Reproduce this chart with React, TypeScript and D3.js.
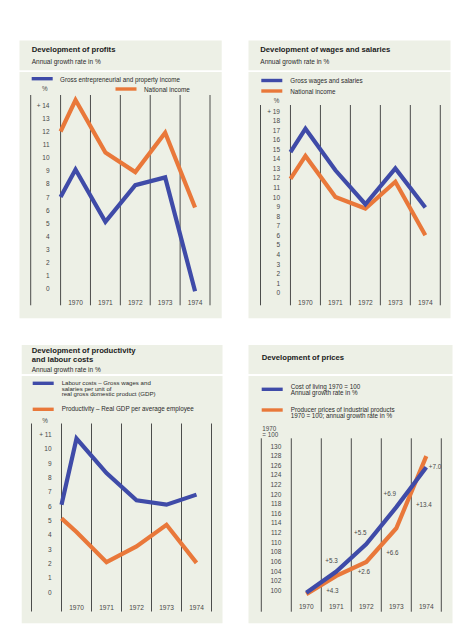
import React from "react";
import * as d3 from "d3";

// ---------- DATA ----------
const years = [1970, 1971, 1972, 1973, 1974];
const seriesYears = [1969.5, 1970, 1971, 1972, 1973, 1974];
const priceYears = [1970, 1971, 1972, 1973, 1974];

const profitsGross = [7.0, 9.1, 5.1, 7.9, 8.5, -0.2];
const profitsNational = [12.0, 14.4, 10.4, 8.9, 11.9, 6.2];
const profitsTicks = d3.range(0, 15);

const wagesGross = [14.7, 17.15, 12.8, 9.25, 13.0, 8.9];
const wagesNational = [11.9, 14.3, 10.0, 8.8, 11.6, 6.0];
const wagesTicks = d3.range(0, 20);

const labourCosts = [6.1, 10.7, 8.3, 6.4, 6.1, 6.8];
const productivity = [5.15, 4.2, 2.1, 3.2, 4.7, 2.05];
const productivityTicks = d3.range(0, 12);

const costOfLiving = [99.5, 103.9, 109.6, 117.3, 125.6];
const producerPrices = [99.2, 103.0, 105.9, 112.9, 127.9];
const priceTicks = d3.range(100, 131, 2);
const priceNoteLabels = ["+5.3", "+5.5", "+6.9", "+7.0", "+4.3", "+2.6", "+6.6", "+13.4"];
const priceNoteYears = [1970.84, 1971.8, 1972.78, 1974.29, 1970.87, 1971.92, 1972.87, 1973.92];
const priceNoteValues = [106.1, 112.0, 120.1, 125.8, 99.9, 104.0, 107.8, 117.9];

// ---------- STYLE ----------
const BLUE = "#3f4ba8";
const ORANGE = "#e9783a";
const PANEL = "#edf0e6";
const FONT = "'Liberation Sans', Arial, Helvetica, sans-serif";
const TEXT = "#2a2a2a";
const LIGHT = "#484848";

type Series = { xs: number[]; values: number[]; color: string };

function Plot(props: {
  xRange: [number, number];
  yDomain: [number, number];
  yRange: [number, number];
  gridTop: number;
  gridBottom: number;
  ticks: number[];
  tickFormat: (v: number, i: number) => string;
  tickRight: number;
  yearY: number;
  series: Series[];
}) {
  const x = d3.scaleLinear().domain([1968.5, 1974.5]).range(props.xRange);
  const y = d3.scaleLinear().domain(props.yDomain).range(props.yRange);
  const edges = [1968.5, ...years.map((yr) => yr - 0.5), years[years.length - 1] + 0.5];
  const line = d3
    .line<[number, number]>()
    .x((d) => x(d[0]))
    .y((d) => y(d[1]));
  return (
    <g>
      {edges.map((e, i) => (
        <line
          key={"v" + i}
          x1={x(e)}
          x2={x(e)}
          y1={props.gridTop}
          y2={props.gridBottom}
          stroke="#3a3a3a"
          strokeWidth={0.9}
        />
      ))}
      {props.ticks.map((t, i) => (
        <text
          key={"t" + i}
          x={props.tickRight}
          y={y(t)}
          textAnchor="end"
          dominantBaseline="central"
          fontSize={6.5}
          fill={LIGHT}
          fontFamily={FONT}
        >
          {props.tickFormat(t, i)}
        </text>
      ))}
      {years.map((yr) => (
        <text
          key={"y" + yr}
          x={x(yr)}
          y={props.yearY}
          textAnchor="middle"
          dominantBaseline="central"
          fontSize={6.6}
          fill={LIGHT}
          fontFamily={FONT}
        >
          {yr}
        </text>
      ))}
      {props.series.map((s, i) => (
        <path
          key={"s" + i}
          d={line(s.xs.map((xv, j) => [xv, s.values[j]] as [number, number])) || ""}
          fill="none"
          stroke={s.color}
          strokeWidth={4.2}
          strokeLinejoin="miter"
          strokeLinecap="butt"
        />
      ))}
    </g>
  );
}

function Swatch({ x, y, color }: { x: number; y: number; color: string }) {
  return <rect x={x} y={y - 1.7} width={21} height={3.4} fill={color} />;
}

function T(props: {
  x: number;
  y: number;
  size?: number;
  bold?: boolean;
  anchor?: string;
  fill?: string;
  children: React.ReactNode;
}) {
  return (
    <text
      x={props.x}
      y={props.y}
      fontSize={props.size ?? 6}
      fontWeight={props.bold ? "bold" : "normal"}
      textAnchor={props.anchor ?? "start"}
      dominantBaseline="central"
      fill={props.fill ?? TEXT}
      fontFamily={FONT}
    >
      {props.children}
    </text>
  );
}

export default function App() {
  const plus = (top: number) => (v: number) => (v === top ? "+ " + v : String(v));
  const priceX = d3.scaleLinear().domain([1968.5, 1974.5]).range([261.3, 441.3]);
  const priceY = d3.scaleLinear().domain([100, 130]).range([590.3, 446]);
  return (
    <svg
      width={465}
      height={640}
      style={{ position: "absolute", left: 0, top: 0, background: "#ffffff" }}
    >
      <rect x={0} y={0} width={465} height={640} fill="#ffffff" />

      {/* Panel 1 */}
      <rect x={19.5} y={40.5} width={202.2} height={29.8} fill={PANEL} />
      <rect x={19.5} y={72} width={202.2} height={246.3} fill={PANEL} />
      <T x={31.7} y={49} size={7.7} bold fill="#1b1b1b">Development of profits</T>
      <T x={31.7} y={61} size={6.5}>Annual growth rate in %</T>
      <Swatch x={31.7} y={78.7} color={BLUE} />
      <T x={60} y={79} size={6.3}>Gross entrepreneurial and property income</T>
      <Swatch x={115.5} y={89} color={ORANGE} />
      <T x={144} y={89} size={6.4}>National income</T>
      <T x={44.7} y={88.5} size={6.3} anchor="middle" fill={LIGHT}>%</T>
      <Plot
        xRange={[30.7, 210]}
        yDomain={[0, 14]}
        yRange={[288.7, 105.3]}
        gridTop={95}
        gridBottom={305.3}
        ticks={profitsTicks}
        tickFormat={plus(14)}
        tickRight={49.5}
        yearY={302.5}
        series={[
          { xs: seriesYears, values: profitsNational, color: ORANGE },
          { xs: seriesYears, values: profitsGross, color: BLUE },
        ]}
      />

      {/* Panel 2 */}
      <rect x={248.5} y={40.5} width={202} height={29.8} fill={PANEL} />
      <rect x={248.5} y={72} width={202} height={246.3} fill={PANEL} />
      <T x={260.3} y={49} size={7.7} bold fill="#1b1b1b">Development of wages and salaries</T>
      <T x={260.3} y={61} size={6.5}>Annual growth rate in %</T>
      <Swatch x={261.3} y={80.5} color={BLUE} />
      <T x={290.3} y={80} size={6.3}>Gross wages and salaries</T>
      <Swatch x={261.3} y={91} color={ORANGE} />
      <T x={290.3} y={91.5} size={6.3}>National income</T>
      <T x={276.5} y={100.5} size={6.3} anchor="middle" fill={LIGHT}>%</T>
      <Plot
        xRange={[260.5, 440.3]}
        yDomain={[0, 19]}
        yRange={[292.7, 111]}
        gridTop={105}
        gridBottom={305.3}
        ticks={wagesTicks}
        tickFormat={plus(19)}
        tickRight={280}
        yearY={302.5}
        series={[
          { xs: seriesYears, values: wagesNational, color: ORANGE },
          { xs: seriesYears, values: wagesGross, color: BLUE },
        ]}
      />

      {/* Panel 3 */}
      <rect x={21.7} y={345} width={200.8} height={29} fill={PANEL} />
      <rect x={21.7} y={376} width={200.8} height={247.3} fill={PANEL} />
      <T x={31.7} y={350.7} size={7.7} bold fill="#1b1b1b">Development of productivity</T>
      <T x={31.7} y={359.5} size={7.7} bold fill="#1b1b1b">and labour costs</T>
      <T x={31.7} y={369.3} size={6.5}>Annual growth rate in %</T>
      <Swatch x={32.7} y={383.3} color={BLUE} />
      <T x={61.7} y={382.2} size={6.1}>Labour costs – Gross wages and</T>
      <T x={61.7} y={388} size={6.1}>salaries per unit of</T>
      <T x={61.7} y={393.8} size={6.1}>real gross domestic product (GDP)</T>
      <Swatch x={32.7} y={409.3} color={ORANGE} />
      <T x={61.7} y={408.5} size={6.3}>Productivity – Real GDP per average employee</T>
      <T x={45} y={420} size={6.3} anchor="middle" fill={LIGHT}>%</T>
      <Plot
        xRange={[31.5, 211.5]}
        yDomain={[0, 11]}
        yRange={[592.3, 434.3]}
        gridTop={423.5}
        gridBottom={611.5}
        ticks={productivityTicks}
        tickFormat={plus(11)}
        tickRight={51.5}
        yearY={607.3}
        series={[
          { xs: seriesYears, values: productivity, color: ORANGE },
          { xs: seriesYears, values: labourCosts, color: BLUE },
        ]}
      />

      {/* Panel 4 */}
      <rect x={248.5} y={345} width={204} height={29} fill={PANEL} />
      <rect x={248.5} y={376} width={204} height={247.3} fill={PANEL} />
      <T x={261.7} y={357} size={7.7} bold fill="#1b1b1b">Development of prices</T>
      <Swatch x={261.7} y={389.3} color={BLUE} />
      <T x={290.7} y={386.5} size={6.3}>Cost of living 1970 = 100</T>
      <T x={290.7} y={392.2} size={6.3}>Annual growth rate in %</T>
      <Swatch x={261.7} y={410} color={ORANGE} />
      <T x={290.7} y={409.6} size={6.3}>Producer prices of industrial products</T>
      <T x={290.7} y={415.8} size={6.3}>1970 = 100; annual growth rate in %</T>
      <T x={262.3} y={428.5} size={6.3} fill={LIGHT}>1970</T>
      <T x={262.3} y={434.5} size={6.3} fill={LIGHT}>= 100</T>
      <Plot
        xRange={[261.3, 441.3]}
        yDomain={[100, 130]}
        yRange={[590.3, 446]}
        gridTop={438.3}
        gridBottom={611.7}
        ticks={priceTicks}
        tickFormat={(v) => String(v)}
        tickRight={281.3}
        yearY={606}
        series={[
          { xs: priceYears, values: producerPrices, color: ORANGE },
          { xs: priceYears, values: costOfLiving, color: BLUE },
        ]}
      />
      {priceNoteLabels.map((lab, i) => (
        <T
          key={"n" + i}
          x={priceX(priceNoteYears[i])}
          y={priceY(priceNoteValues[i])}
          size={6.3}
          anchor="middle"
          fill={LIGHT}
        >
          {lab}
        </T>
      ))}
    </svg>
  );
}
